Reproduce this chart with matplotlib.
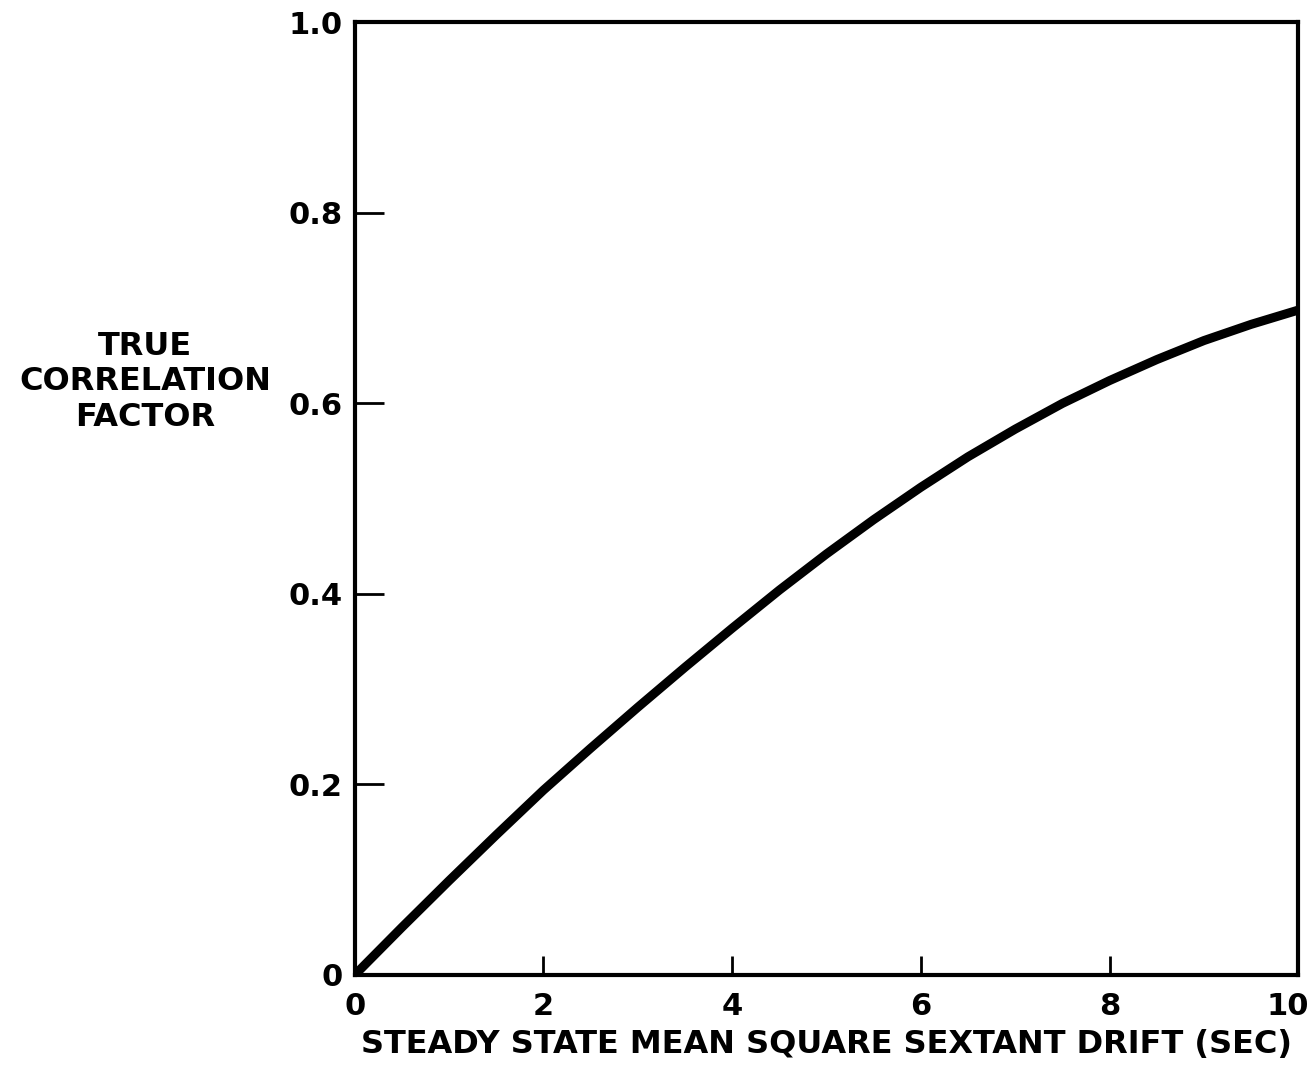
import matplotlib
matplotlib.use("Agg")
from matplotlib import pyplot as plt
from matplotlib.transforms import ScaledTranslation

drift = [0, 0.5, 1, 1.5, 2, 2.5, 3, 3.5, 4, 4.5, 5, 5.5, 6, 6.5, 7,
         7.5, 8, 8.5, 9, 9.5, 10]
corr = [0, 0.05, 0.099, 0.147, 0.194, 0.238, 0.281, 0.323, 0.364, 0.404,
        0.442, 0.478, 0.512, 0.544, 0.573, 0.6, 0.624, 0.646, 0.666,
        0.683, 0.698]

xticks = [0, 2, 4, 6, 8, 10]
xlabels = ["0", "2", "4", "6", "8", "10"]
yticks = [0, 0.2, 0.4, 0.6, 0.8, 1.0]
ylabels = ["0", "0.2", "0.4", "0.6", "0.8", "1.0"]

plt.rcParams["font.family"] = "DejaVu Sans"
plt.rcParams["font.weight"] = "bold"

fig = plt.figure(figsize=(13.14, 10.69), dpi=100)
ax = fig.add_axes([0.270, 0.088, 0.718, 0.891])

ax.plot(drift, corr, color="black", linewidth=6.5, solid_capstyle="round")

ax.set_xlim(0, 10)
ax.set_ylim(0, 1.0)
ax.set_xticks(xticks)
ax.set_xticklabels(xlabels, fontsize=22, fontweight="bold")
ax.set_yticks(yticks)
ax.set_yticklabels(ylabels, fontsize=22, fontweight="bold")
ax.tick_params(axis="x", direction="in", length=14, width=2, pad=12)
ax.tick_params(axis="y", direction="in", length=21, width=2, pad=9)

# keep the "10" inside the figure edge
last = ax.get_xticklabels()[-1]
last.set_transform(last.get_transform() + ScaledTranslation(-0.1, 0, fig.dpi_scale_trans))

for s in ax.spines.values():
    s.set_linewidth(3)

ax.set_xlabel("STEADY STATE MEAN SQUARE SEXTANT DRIFT (SEC)",
              fontsize=23, fontweight="bold", labelpad=6)
fig.text(145 / 1314, 1 - 382 / 1069, "TRUE\nCORRELATION\nFACTOR",
         ha="center", va="center", fontsize=23, fontweight="bold",
         linespacing=1.2)

fig.savefig("out.png", dpi=100)
